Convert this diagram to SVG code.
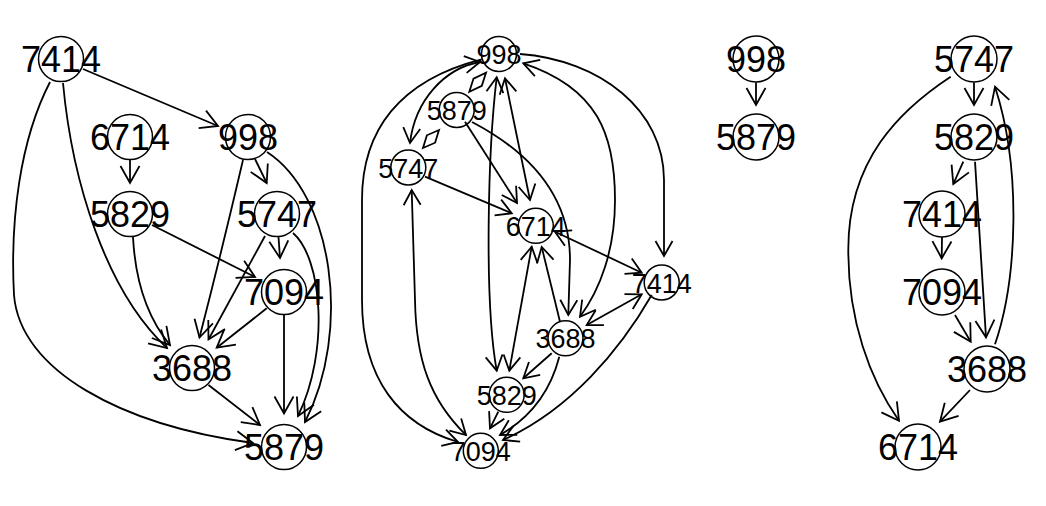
<svg xmlns="http://www.w3.org/2000/svg" width="1046" height="506" viewBox="0 0 1046 506">
<style>
.e{fill:none;stroke:#000;stroke-width:1.8;marker-end:url(#ah)}
.e2{fill:none;stroke:#000;stroke-width:1.8;marker-end:url(#ah2)}
.b2{marker-start:url(#ah2)}
.d{fill:none;stroke:#000;stroke-width:1.8}
.n{fill:none;stroke:#000;stroke-width:1.5}
.t{font-family:"Liberation Sans",Arial,sans-serif;font-size:36px;text-anchor:middle;fill:#000}
.t2{font-family:"Liberation Sans",Arial,sans-serif;font-size:27px;text-anchor:middle;fill:#000}
</style>
<defs>
<marker id="ah" markerUnits="userSpaceOnUse" viewBox="-20 -20 40 40" markerWidth="40" markerHeight="40" refX="0" refY="0" orient="auto-start-reverse" overflow="visible"><path d="M-17,-9.5 L0,0 L-17,9.5" fill="none" stroke="#000" stroke-width="1.8"/></marker>
<marker id="ah2" markerUnits="userSpaceOnUse" viewBox="-20 -20 40 40" markerWidth="40" markerHeight="40" refX="0" refY="0" orient="auto-start-reverse" overflow="visible"><path d="M-15,-8.5 L0,0 L-15,8.5" fill="none" stroke="#000" stroke-width="1.8"/></marker>
</defs>
<rect width="1046" height="506" fill="#fff"/>
<g id="edges">
<!-- panel 1 -->
<path class="e" d="M83,69 L218,126"/>
<path class="e" d="M130,160 L130,183"/>
<path class="e" d="M255,159 L266.7,183"/>
<path class="e" d="M278.5,237 L280,258"/>
<path class="e" d="M243,160 Q222,250 199.5,337.5"/>
<path class="e" d="M267,152 C333,195 352,330 305,422"/>
<path class="e" d="M293,233 C322,258 330,350 298,416"/>
<path class="e" d="M133,237 C135,275 145,315 170,345"/>
<path class="e" d="M63,83 C72,180 105,290 167,348"/>
<path class="e" d="M50,82 C20,140 10,220 14,295 C20,370 120,425 253,443"/>
<path class="e" d="M152,225 L255,277"/>
<path class="e" d="M265,236 L208.5,339.5"/>
<path class="e" d="M266.7,308.3 L216.7,347.7"/>
<path class="e" d="M284,315 L284,413.5"/>
<path class="e" d="M208.5,385 L260,425"/>
<!-- panel 2 -->
<polygon class="d" points="486,72.7 481.8,85.8 469.3,91.7 473.5,78.6"/>
<polygon class="d" points="439,130 435.1,142.7 423,148 426.9,135.3"/>
<path class="e2 b2" d="M480,62 C445,68 415,100 410,143"/>
<path class="e2" d="M481.7,59.3 C400,80 362,130 362,200 L362,300 C362,380 400,425 458,442"/>
<path class="e2 b2" d="M496.7,77.3 C488,150 484,300 496.7,370.7"/>
<path class="e2 b2" d="M505,78.3 L530,200"/>
<path class="e2" d="M465,121.7 L517,203"/>
<path class="e2" d="M472,122 C535,155 570,200 570,260 L568.3,315"/>
<path class="e2 b2" d="M523.3,63.3 C598,88 615,135 615,200 C615,250 600,290 580,316.7"/>
<path class="e2" d="M520,54 C600,60 664,110 664,180 L664,256"/>
<path class="e2" d="M425,176.7 L511.7,213.3"/>
<path class="e2 b2" d="M411.7,190 L415,300 C416,360 430,400 466,435"/>
<path class="e2 b2" d="M509.3,370.7 L531.7,246.7"/>
<path class="e2" d="M560,321.7 L541.7,247"/>
<path class="e2 b2" d="M555,231.7 L641.7,272.7"/>
<path class="e2 b2" d="M586.7,325 L641.7,294.3"/>
<path class="e2" d="M551.7,353.3 L523.3,378.3"/>
<path class="e2" d="M559.3,356.7 C552,385 535,415 500,435"/>
<path class="e2" d="M651.7,295 C620,350 570,410 503,440"/>
<path class="e2" d="M498.3,411.7 L490,428.3"/>
<!-- panel 3 -->
<path class="e" d="M756,82.5 L756,105"/>
<path class="e" d="M974,82.5 L974,105"/>
<path class="e" d="M950.7,76.7 C900,110 848,160 848.3,250 C848,320 870,380 899,420.7"/>
<path class="e" d="M963.3,161.7 L953.3,184"/>
<path class="e" d="M975,161.7 C979,230 983,290 986,337.3"/>
<path class="e" d="M995,344.3 C1017,280 1022,170 995,86.7"/>
<path class="e" d="M942,237 L941.7,258.3"/>
<path class="e" d="M955,315 L970.7,341.7"/>
<path class="e" d="M970,390 L940,421.7"/>
</g>
<!-- panel 1 nodes -->
<g id="p1-7414"><circle class="n" cx="61" cy="59" r="22.5"/><text class="t" x="61" y="72">7414</text></g>
<g id="p1-6714"><circle class="n" cx="130" cy="137" r="22.5"/><text class="t" x="130" y="150">6714</text></g>
<g id="p1-998"><circle class="n" cx="248" cy="137" r="22.5"/><text class="t" x="248" y="150">998</text></g>
<g id="p1-5829"><circle class="n" cx="130" cy="214" r="22.5"/><text class="t" x="130" y="227">5829</text></g>
<g id="p1-5747"><circle class="n" cx="277" cy="214" r="22.5"/><text class="t" x="277" y="227">5747</text></g>
<g id="p1-7094"><circle class="n" cx="284" cy="292" r="22.5"/><text class="t" x="284" y="305">7094</text></g>
<g id="p1-3688"><circle class="n" cx="192" cy="368" r="22.5"/><text class="t" x="192" y="381">3688</text></g>
<g id="p1-5879"><circle class="n" cx="284" cy="447" r="22.5"/><text class="t" x="284" y="460">5879</text></g>
<!-- panel 2 nodes -->
<g id="p2-998"><circle class="n" cx="499" cy="54" r="17.5"/><text class="t2" x="499" y="64">998</text></g>
<g id="p2-5879"><circle class="n" cx="456.7" cy="110" r="17.5"/><text class="t2" x="456.7" y="120">5879</text></g>
<g id="p2-5747"><circle class="n" cx="408.3" cy="167.5" r="17.5"/><text class="t2" x="408.3" y="177.5">5747</text></g>
<g id="p2-6714"><circle class="n" cx="535.8" cy="225.8" r="17.5"/><text class="t2" x="535.8" y="235.8">6714</text></g>
<g id="p2-7414"><circle class="n" cx="661.7" cy="282.5" r="17.5"/><text class="t2" x="661.7" y="292.5">7414</text></g>
<g id="p2-3688"><circle class="n" cx="565.5" cy="338.3" r="17.5"/><text class="t2" x="565.5" y="348.3">3688</text></g>
<g id="p2-5829"><circle class="n" cx="506.7" cy="394.8" r="17.5"/><text class="t2" x="506.7" y="404.8">5829</text></g>
<g id="p2-7094"><circle class="n" cx="480.8" cy="450.8" r="17.5"/><text class="t2" x="480.8" y="460.8">7094</text></g>
<!-- panel 3 nodes -->
<g id="p3-998"><circle class="n" cx="756" cy="59" r="23"/><text class="t" x="756" y="72">998</text></g>
<g id="p3-5879"><circle class="n" cx="756" cy="137" r="23"/><text class="t" x="756" y="150">5879</text></g>
<g id="p3-5747"><circle class="n" cx="974" cy="59" r="23"/><text class="t" x="974" y="72">5747</text></g>
<g id="p3-5829"><circle class="n" cx="974" cy="137" r="23"/><text class="t" x="974" y="150">5829</text></g>
<g id="p3-7414"><circle class="n" cx="942" cy="214" r="23"/><text class="t" x="942" y="227">7414</text></g>
<g id="p3-7094"><circle class="n" cx="942" cy="292" r="23"/><text class="t" x="942" y="305">7094</text></g>
<g id="p3-3688"><circle class="n" cx="987" cy="369" r="23"/><text class="t" x="987" y="382">3688</text></g>
<g id="p3-6714"><circle class="n" cx="918" cy="447" r="23"/><text class="t" x="918" y="460">6714</text></g>
</svg>
